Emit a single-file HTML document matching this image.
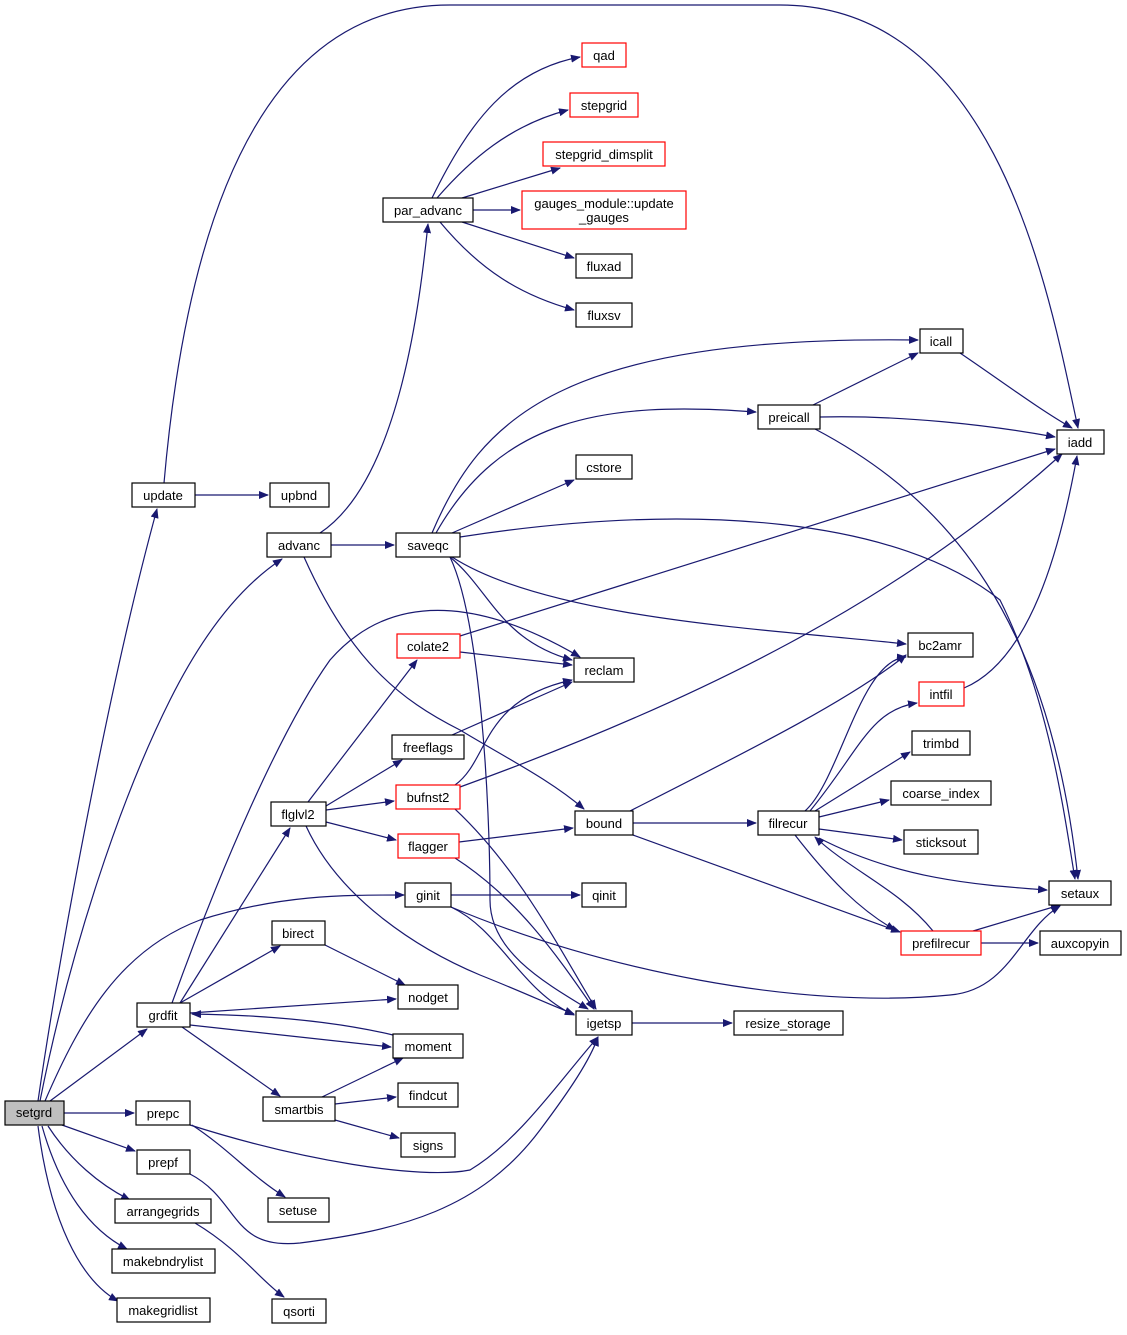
<!DOCTYPE html>
<html><head><meta charset="utf-8"><style>
html,body{margin:0;padding:0;background:#fff}
svg text{font-family:"Liberation Sans",Arial,sans-serif;font-size:13px;fill:#000;text-anchor:middle}
</style></head><body>
<svg width="1127" height="1330" viewBox="0 0 1127 1330" xmlns="http://www.w3.org/2000/svg">
<defs><marker id="a" markerWidth="10" markerHeight="8" refX="9" refY="4" orient="auto" markerUnits="userSpaceOnUse"><path d="M0,0 L10,4 L0,8 Z" fill="#191970"/></marker></defs>
<g fill="none" stroke="#191970" stroke-width="1.2" marker-end="url(#a)">
<path d="M38,1101 C60,950 110,680 157,509"/>
<path d="M40,1101 C70,950 120,800 170,700 C210,620 250,580 282,559"/>
<path d="M45,1101 C80,1020 120,950 200,920 C280,895 340,895 404,895"/>
<path d="M50,1101 L147,1029"/>
<path d="M64,1113 L134,1113"/>
<path d="M62,1125 L135,1151"/>
<path d="M48,1126 C70,1160 100,1185 130,1200"/>
<path d="M42,1126 C60,1190 90,1230 127,1249"/>
<path d="M38,1126 C50,1220 80,1280 118,1301"/>
<path d="M195,495 L268,495"/>
<path d="M164,483 C180,300 230,5 450,5 L780,5 C1000,5 1050,300 1078,428"/>
<path d="M320,533 C400,480 420,300 428,224"/>
<path d="M331,545 L394,545"/>
<path d="M304,557 C350,660 400,700 460,730 C510,760 550,780 584,809"/>
<path d="M432,198 C470,120 510,70 580,57"/>
<path d="M437,198 C470,160 510,125 568,110"/>
<path d="M462,198 L560,168"/>
<path d="M473,210 L520,210"/>
<path d="M462,222 L574,258"/>
<path d="M440,222 C480,270 520,295 574,310"/>
<path d="M432,533 C480,420 560,335 918,340"/>
<path d="M436,533 C500,420 600,400 756,412"/>
<path d="M452,533 L574,480"/>
<path d="M460,537 C700,500 900,520 1000,600 C1050,700 1065,820 1075,879"/>
<path d="M452,557 C550,620 780,630 906,644"/>
<path d="M450,557 C490,590 500,640 572,660"/>
<path d="M450,557 C480,620 490,800 490,900 C490,950 540,980 588,1009"/>
<path d="M813,405 L918,353"/>
<path d="M820,417 C900,415 990,425 1055,437"/>
<path d="M815,429 C950,500 1050,620 1078,879"/>
<path d="M960,353 C1000,380 1040,410 1072,428"/>
<path d="M460,636 L1055,449"/>
<path d="M460,652 L572,665"/>
<path d="M172,1003 C220,870 280,730 330,660 C400,580 500,610 580,657"/>
<path d="M452,735 L572,682"/>
<path d="M455,785 C490,760 480,700 572,680"/>
<path d="M460,787 C700,700 900,600 1062,454"/>
<path d="M455,809 C520,870 560,950 596,1009"/>
<path d="M308,802 L417,660"/>
<path d="M326,806 L402,760"/>
<path d="M326,810 L394,801"/>
<path d="M326,822 L396,840"/>
<path d="M306,826 C340,900 420,950 480,975 C530,995 550,1005 574,1014"/>
<path d="M459,842 L573,828"/>
<path d="M455,858 C520,900 560,960 594,1009"/>
<path d="M630,811 C750,750 850,700 906,655"/>
<path d="M633,823 L756,823"/>
<path d="M633,835 L900,932"/>
<path d="M805,811 C840,780 860,660 906,657"/>
<path d="M810,811 C860,750 870,710 917,703"/>
<path d="M815,811 L910,752"/>
<path d="M819,817 L889,800"/>
<path d="M819,829 L902,840"/>
<path d="M819,838 C900,880 980,885 1047,890"/>
<path d="M795,835 C830,880 860,910 895,930"/>
<path d="M933,931 C900,890 850,870 815,837"/>
<path d="M973,931 L1060,905"/>
<path d="M981,943 L1038,943"/>
<path d="M964,688 C1030,660 1060,550 1077,456"/>
<path d="M451,895 L580,895"/>
<path d="M451,907 C500,930 520,990 574,1015"/>
<path d="M451,907 C600,970 800,1010 950,995 C1010,990 1020,930 1060,906"/>
<path d="M180,1003 L290,828"/>
<path d="M180,1003 L280,946"/>
<path d="M190,1013 L396,999"/>
<path d="M190,1025 L391,1047"/>
<path d="M393,1035 C330,1020 260,1015 192,1014"/>
<path d="M182,1027 L280,1096"/>
<path d="M325,945 L405,985"/>
<path d="M322,1097 L403,1058"/>
<path d="M335,1104 L396,1097"/>
<path d="M335,1120 L399,1138"/>
<path d="M192,1125 C230,1150 250,1175 285,1197"/>
<path d="M190,1125 C300,1160 420,1180 470,1170 C520,1140 560,1080 598,1037"/>
<path d="M190,1174 C240,1200 230,1250 300,1243 C400,1230 480,1210 540,1130 C570,1090 590,1060 598,1037"/>
<path d="M632,1023 L732,1023"/>
<path d="M195,1223 C240,1250 260,1280 284,1297"/>
</g>
<g stroke-width="1.2">
<rect x="5" y="1101" width="59" height="24" fill="#bfbfbf" stroke="#000"/><text x="34" y="1117">setgrd</text>
<g fill="#fff" stroke="#000">
<rect x="132" y="483" width="63" height="24"/><rect x="270" y="483" width="59" height="24"/>
<rect x="267" y="533" width="64" height="24"/><rect x="396" y="533" width="64" height="24"/>
<rect x="383" y="198" width="90" height="24"/><rect x="576" y="254" width="56" height="24"/>
<rect x="576" y="303" width="56" height="24"/><rect x="920" y="329" width="43" height="24"/>
<rect x="758" y="405" width="62" height="24"/><rect x="1057" y="430" width="47" height="24"/>
<rect x="576" y="455" width="56" height="24"/><rect x="574" y="658" width="60" height="24"/>
<rect x="908" y="633" width="65" height="24"/><rect x="912" y="731" width="58" height="24"/>
<rect x="891" y="781" width="100" height="24"/><rect x="904" y="830" width="74" height="24"/>
<rect x="1049" y="881" width="62" height="24"/><rect x="1040" y="931" width="81" height="24"/>
<rect x="392" y="735" width="72" height="24"/><rect x="271" y="802" width="55" height="24"/>
<rect x="575" y="811" width="58" height="24"/><rect x="758" y="811" width="61" height="24"/>
<rect x="405" y="883" width="46" height="24"/><rect x="582" y="883" width="44" height="24"/>
<rect x="272" y="921" width="53" height="24"/><rect x="398" y="985" width="60" height="24"/>
<rect x="137" y="1003" width="53" height="24"/><rect x="576" y="1011" width="56" height="24"/>
<rect x="734" y="1011" width="109" height="24"/><rect x="393" y="1034" width="70" height="24"/>
<rect x="263" y="1097" width="72" height="24"/><rect x="398" y="1083" width="60" height="24"/>
<rect x="401" y="1133" width="54" height="24"/><rect x="136" y="1101" width="54" height="24"/>
<rect x="137" y="1150" width="53" height="24"/><rect x="268" y="1198" width="61" height="24"/>
<rect x="115" y="1199" width="96" height="24"/><rect x="112" y="1249" width="103" height="24"/>
<rect x="117" y="1298" width="93" height="24"/><rect x="272" y="1299" width="54" height="24"/>
</g>
<g fill="#fff" stroke="#f00">
<rect x="582" y="43" width="44" height="24"/><rect x="570" y="93" width="68" height="24"/>
<rect x="543" y="142" width="122" height="24"/><rect x="522" y="191" width="164" height="38"/>
<rect x="397" y="634" width="63" height="24"/><rect x="919" y="682" width="45" height="24"/>
<rect x="396" y="785" width="64" height="24"/><rect x="398" y="834" width="61" height="24"/>
<rect x="901" y="931" width="80" height="24"/>
</g>
</g>
<text x="163" y="500">update</text><text x="299" y="500">upbnd</text>
<text x="299" y="550">advanc</text><text x="428" y="550">saveqc</text>
<text x="428" y="215">par_advanc</text><text x="604" y="271">fluxad</text>
<text x="604" y="320">fluxsv</text><text x="941" y="346">icall</text>
<text x="789" y="422">preicall</text><text x="1080" y="447">iadd</text>
<text x="604" y="472">cstore</text><text x="604" y="675">reclam</text>
<text x="940" y="650">bc2amr</text><text x="941" y="748">trimbd</text>
<text x="941" y="798">coarse_index</text><text x="941" y="847">sticksout</text>
<text x="1080" y="898">setaux</text><text x="1080" y="948">auxcopyin</text>
<text x="428" y="752">freeflags</text><text x="298" y="819">flglvl2</text>
<text x="604" y="828">bound</text><text x="788" y="828">filrecur</text>
<text x="428" y="900">ginit</text><text x="604" y="900">qinit</text>
<text x="298" y="938">birect</text><text x="428" y="1002">nodget</text>
<text x="163" y="1020">grdfit</text><text x="604" y="1028">igetsp</text>
<text x="788" y="1028">resize_storage</text><text x="428" y="1051">moment</text>
<text x="299" y="1114">smartbis</text><text x="428" y="1100">findcut</text>
<text x="428" y="1150">signs</text><text x="163" y="1118">prepc</text>
<text x="163" y="1167">prepf</text><text x="298" y="1215">setuse</text>
<text x="163" y="1216">arrangegrids</text><text x="163" y="1266">makebndrylist</text>
<text x="163" y="1315">makegridlist</text><text x="299" y="1316">qsorti</text>
<text x="604" y="60">qad</text><text x="604" y="110">stepgrid</text>
<text x="604" y="159">stepgrid_dimsplit</text>
<text x="604" y="208">gauges_module::update</text><text x="604" y="222">_gauges</text>
<text x="428" y="651">colate2</text><text x="941" y="699">intfil</text>
<text x="428" y="802">bufnst2</text><text x="428" y="851">flagger</text>
<text x="941" y="948">prefilrecur</text>
</svg>
</body></html>
